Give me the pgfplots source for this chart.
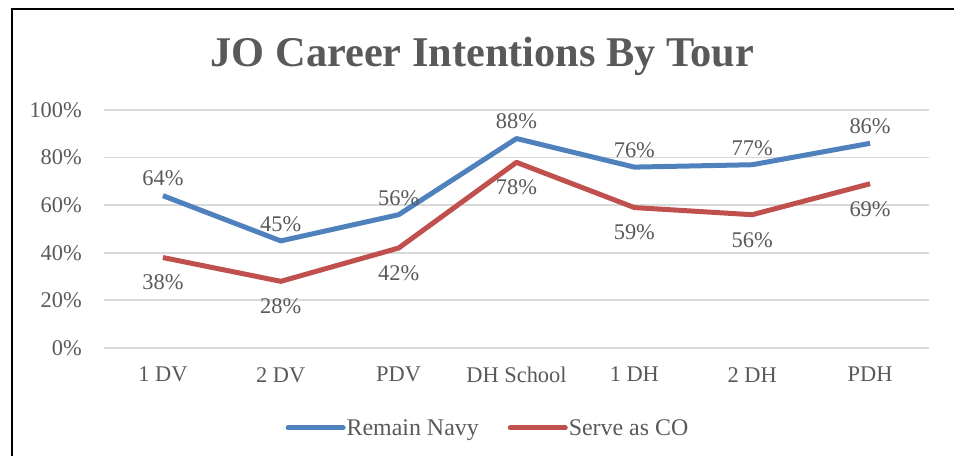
\documentclass[border=0pt]{standalone}
\usepackage{pgfplots}
\pgfplotsset{compat=1.18}
\usepackage{fontspec}
\setmainfont{Liberation Serif}
\definecolor{navyblue}{HTML}{4F81BD}
\definecolor{cored}{HTML}{C0504D}
\definecolor{txt}{HTML}{595959}
\definecolor{gridc}{HTML}{D9D9D9}
\begin{document}
\begin{tikzpicture}[x=1bp,y=1bp]
\useasboundingbox (0,0) rectangle (954,456);
\draw[line width=2bp] (12,-20) -- (12,447) -- (990,447);
\node[anchor=base, text=txt, font=\fontsize{42.5}{48}\selectfont\bfseries] at (482.5,389) {JO Career Intentions By Tour};
\begin{axis}[
  at={(104bp,108bp)}, anchor=south west,
  scale only axis, width=825bp, height=238bp,
  xmin=-0.5, xmax=6.5, ymin=0, ymax=100,
  clip=false,
  axis line style={draw=none},
  major tick length=0pt,
  ymajorgrids, grid style={gridc, line width=1.8bp},
  ytick={0,20,40,60,80,100},
  yticklabels={0\%,20\%,40\%,60\%,80\%,100\%},
  xtick={0,1,2,3,4,5,6},
  xticklabels={1 DV,2 DV,PDV,DH School,1 DH,2 DH,PDH},
  tick label style={font=\fontsize{22.5}{26}\selectfont, text=txt, inner sep=0pt},
  yticklabel style={anchor=east, xshift=-22bp},
  xticklabel style={anchor=north, yshift=-19bp},
  /pgf/number format/assume math mode=true,
  nodes near coords={\pgfmathprintnumber{\pgfplotspointmeta}\%},
  every node near coord/.append style={font=\fontsize{22.5}{26}\selectfont, text=txt, anchor=center},
  legend image code/.code={\draw[#1, line width=5bp, line cap=round] (0bp,0bp) -- (55bp,0bp);},
  legend columns=2,
  legend style={draw=none, fill=none, at={(0.4648,-0.336)}, anchor=center,
    font=\fontsize{24}{28}\selectfont, text=txt,
    /tikz/every even column/.append style={column sep=28bp},
    nodes={inner sep=1bp}},
]
\addplot[navyblue, line width=5bp, line join=round, every node near coord/.append style={yshift=17bp}]
  coordinates {(0,64) (1,45) (2,56) (3,88) (4,76) (5,77) (6,86)};
\addlegendentry{Remain Navy}
\addplot[cored, line width=5bp, line join=round, every node near coord/.append style={yshift=-25bp}]
  coordinates {(0,38) (1,28) (2,42) (3,78) (4,59) (5,56) (6,69)};
\addlegendentry{Serve as CO}
\end{axis}
\end{tikzpicture}
\end{document}
